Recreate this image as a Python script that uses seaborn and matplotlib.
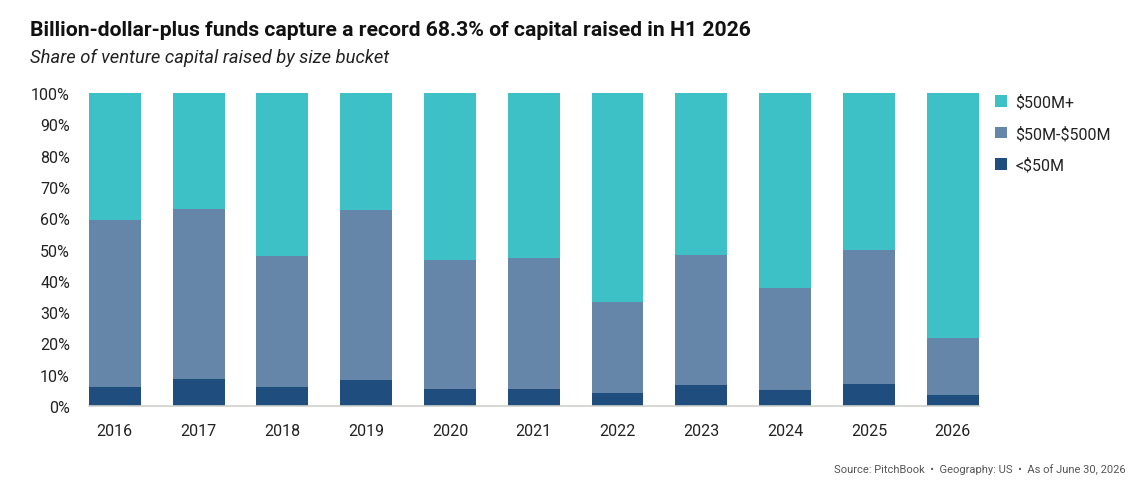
import matplotlib.pyplot as plt
from matplotlib.patches import Patch
from matplotlib.ticker import PercentFormatter
import seaborn as sns
import pandas as pd
import numpy as np

# Values (share of capital, %)
years = ["2016", "2017", "2018", "2019", "2020", "2021", "2022", "2023", "2024", "2025", "2026"]
small = [6.2, 8.7, 6.2, 8.4, 5.5, 5.5, 4.2, 6.8, 5.2, 7.1, 3.6]        # <$50M
mid = [53.2, 54.2, 41.7, 54.2, 41.1, 41.8, 29.1, 41.4, 32.5, 42.8, 18.2]  # $50M-$500M
large = [40.6, 37.1, 52.1, 37.4, 53.4, 52.7, 66.7, 51.8, 62.3, 50.1, 78.2]  # $500M+

labels = ["\\$500M+", "\\$50M-\\$500M", "<\\$50M"]
colours = ["#3dc0c6", "#6586a8", "#1e4d7e"]

sns.set_style("white")
plt.rcParams["font.family"] = ["Roboto", "DejaVu Sans"]

df = pd.DataFrame({"year": years, "small": small, "mid": mid, "large": large})
df = df.set_index("year")
df = df.div(df.sum(axis=1), axis=0)  # normalise rows to 1
df["mid_top"] = df["small"] + df["mid"]
df["total"] = df["mid_top"] + df["large"]
df = df.reset_index()

fig = plt.figure(figsize=(11.38, 4.81), dpi=100)
ax = fig.add_axes([0.064, 0.1538, 0.81, 0.6508])

# stacked bars: draw cumulative heights back to front
for col, c in zip(["total", "mid_top", "small"], colours):
    sns.barplot(data=df, x="year", y=col, color=c, width=0.62,
                saturation=1, edgecolor="none", ax=ax)

ax.set_ylim(0, 1)
ax.set_xlim(-0.5, len(years) - 0.5)
ax.set_yticks(np.arange(0, 1.01, 0.1))
ax.yaxis.set_major_formatter(PercentFormatter(1.0, decimals=0))
ax.set_xlabel("")
ax.set_ylabel("")
ax.tick_params(axis="both", length=0, labelsize=11.5, colors="#222222")
ax.tick_params(axis="x", pad=12)
ax.tick_params(axis="y", pad=2)
for side in ["top", "right", "left"]:
    ax.spines[side].set_visible(False)
ax.spines["bottom"].set_color("#d0cfcc")
ax.spines["bottom"].set_linewidth(1.2)
ax.spines["bottom"].set_bounds(-0.31, len(years) - 1 + 0.31)

handles = [Patch(facecolor=c, edgecolor="none") for c in colours]
fig.legend(handles, labels, loc="upper left", bbox_to_anchor=(0.862, 0.832),
           frameon=False, fontsize=11.5, handlelength=0.75, handleheight=0.75,
           handletextpad=0.5, labelspacing=1.0, labelcolor="#222222")

fig.text(0.026, 0.937, "Billion-dollar-plus funds capture a record 68.3% of capital raised in H1 2026",
         fontsize=15.2, fontweight="bold", color="#111111", va="center")
fig.text(0.026, 0.88, "Share of venture capital raised by size bucket",
         fontsize=13.2, style="italic", color="#222222", va="center")
fig.text(0.989, 0.024, "Source: PitchBook  \u2022  Geography: US  \u2022  As of June 30, 2026",
         fontsize=8, color="#555555", ha="right", va="center")

plt.savefig("out.png", dpi=100)
